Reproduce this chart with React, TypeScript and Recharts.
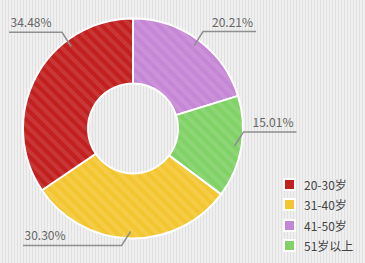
import React from 'react';
import { PieChart, Pie, Cell, Legend } from 'recharts';

const categories = ['20-30岁', '31-40岁', '41-50岁', '51岁以上'];
const values = [34.48, 30.3, 20.21, 15.01];
const colors = ['#c21f1f', '#f3c631', '#c586d5', '#80d166'];
// clockwise order of slices starting at 12 o'clock
const sliceOrder = [2, 3, 1, 0];

const pieData = sliceOrder.map((i) => ({ name: categories[i], value: values[i], ci: i }));

const FONT = '"Noto Sans CJK SC", "Noto Sans", sans-serif';
const RAD = Math.PI / 180;

const renderLabel = (props: any) => {
  const { cx, cy, midAngle, outerRadius, value } = props;
  let a = ((midAngle % 360) + 360) % 360;
  if (a > 90 && a < 180) a = Math.min(a, 127);
  const r0 = outerRadius - 7;
  const sx = cx + r0 * Math.cos(a * RAD);
  const sy = cy - r0 * Math.sin(a * RAD);
  const dirX = Math.cos(a * RAD) >= 0 ? 1 : -1;
  const dirY = Math.sin(a * RAD) > -0.3 ? -1 : 1;
  const ex = sx + dirX * 9;
  const ey = sy + dirY * 14;
  const endX = dirX > 0 ? Math.max(ex + 53, cx + outerRadius) : Math.min(ex - 53, cx - outerRadius);
  const tx = dirX > 0 ? endX - 3 : endX + 1.5;
  return (
    <g>
      <polyline
        points={`${sx},${sy} ${ex},${ey} ${endX},${ey}`}
        fill="none"
        stroke="#8f8f8f"
        strokeWidth={1.5}
      />
      <text
        x={tx}
        y={ey - 5}
        textAnchor={dirX > 0 ? 'end' : 'start'}
        fill="#666"
        fontSize={12}
        fontFamily={FONT}
      >
        {`${Number(value).toFixed(2)}%`}
      </text>
    </g>
  );
};

const renderLegend = () => (
  <div style={{ fontFamily: FONT, fontSize: 12, color: '#444' }}>
    {categories.map((c, i) => (
      <div key={c} style={{ display: 'flex', alignItems: 'center', height: 20.5 }}>
        <span
          style={{
            display: 'inline-block',
            width: 9,
            height: 9,
            background: colors[i],
            border: '2px solid #fff',
            marginRight: 8,
          }}
        />
        <span>{c}</span>
      </div>
    ))}
  </div>
);

export default function App() {
  return (
    <div
      style={{
        position: 'absolute',
        left: 0,
        top: 0,
        width: 365,
        height: 263,
        background: 'repeating-linear-gradient(90deg, #efefef 0px, #efefef 2px, #e1e1e1 2px, #e1e1e1 3px)',
      }}
    >
      <PieChart width={365} height={263} margin={{ top: 0, right: 0, bottom: 0, left: 0 }}>
        <defs>
          {colors.map((c, i) => (
            <pattern
              key={i}
              id={`pat-${i}`}
              patternUnits="userSpaceOnUse"
              width={8}
              height={8}
              patternTransform="rotate(-45)"
            >
              <rect width={8} height={8} fill={c} />
              <rect width={4} height={8} fill="#fff" fillOpacity={0.1} />
            </pattern>
          ))}
        </defs>
        <Pie
          data={pieData}
          dataKey="value"
          nameKey="name"
          cx={133}
          cy={128.5}
          innerRadius={45}
          outerRadius={110}
          startAngle={90}
          endAngle={-270}
          stroke="#fff"
          strokeWidth={2}
          isAnimationActive={false}
          label={renderLabel}
          labelLine={false}
        >
          {pieData.map((d, i) => (
            <Cell key={i} fill={`url(#pat-${d.ci})`} />
          ))}
        </Pie>
        <Legend
          content={renderLegend}
          wrapperStyle={{ position: 'absolute', left: 283, top: 174, width: 80, bottom: 'auto' }}
        />
      </PieChart>
    </div>
  );
}
